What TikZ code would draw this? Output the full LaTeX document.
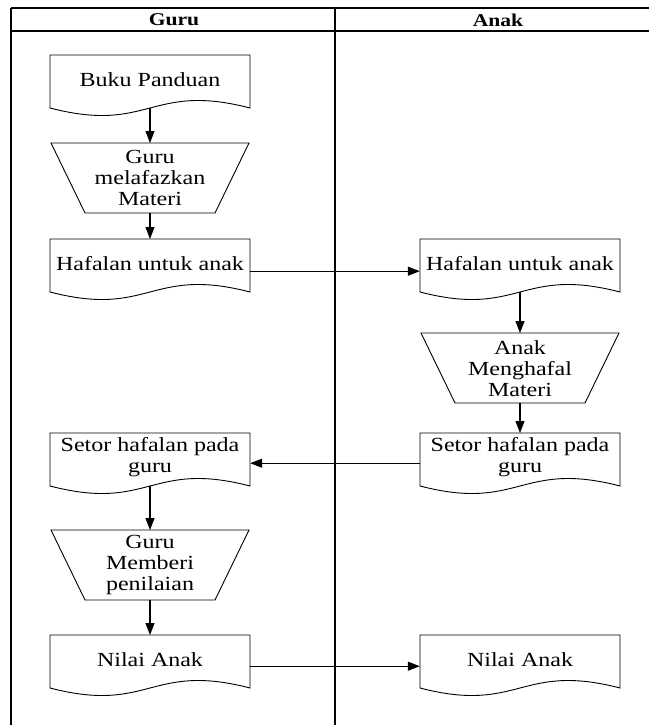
\documentclass[tikz,border=0pt]{standalone}
\usepackage{fontspec}
\setmainfont{Liberation Serif}[FakeStretch=1.2]
\usetikzlibrary{arrows.meta}

\newcommand\bodyfont{\fontsize{20}{21}\selectfont}
\newcommand\headfont{\fontsize{18}{20}\selectfont\bfseries}

\tikzset{
  shapeline/.style={draw=black, line width=0.9pt},
  docbox/.style={rectangle, minimum width=200pt, minimum height=48pt,
    inner sep=0pt, anchor=north, align=center, font=\bodyfont},
  iobox/.style={rectangle, minimum width=198pt, minimum height=70pt,
    inner sep=0pt, anchor=north, align=center, font=\bodyfont},
  flow/.style={line width=1.1pt, -{Triangle[length=12pt,width=9pt]}},
  lanehead/.style={font=\headfont},
  laneframe/.style={line width=1.6pt},
}

% document symbol: name, centre x, top y, text
\newcommand\docshape[4]{%
  \node[docbox] (#1) at (#2,#3) {#4};
  \draw[shapeline] (#2-100,#3) -- (#2+100,#3) -- (#2+100,#3+53)
    .. controls (#2,#3+27) and (#2,#3+79) .. (#2-100,#3+53) -- cycle;
  \coordinate (#1-b) at (#2,#3+53);
}
% manual operation symbol: name, centre x, top y, text
\newcommand\ioshape[4]{%
  \node[iobox] (#1) at (#2,#3) {#4};
  \draw[shapeline] (#2-99,#3) -- (#2+99,#3) -- (#2+65,#3+70)
    -- (#2-65,#3+70) -- cycle;
}

\begin{document}
\begin{tikzpicture}[x=1pt, y=-1pt]
  \fill[white] (0,0) rectangle (649,725);
  \useasboundingbox (0,0) rectangle (649,725);

  % swimlane frame
  \draw[laneframe] (11,8) -- (649,8);
  \draw[laneframe] (11,31) -- (649,31);
  \draw[line width=1.2pt] (11,8) -- (11,725);
  \draw[line width=2pt] (335,8) -- (335,725);
  \node[lanehead] (hguru) at (174,20) {Guru};
  \node[lanehead] (hanak) at (498,20) {Anak};

  % Guru lane
  \docshape{buku}{150}{55}{Buku Panduan}
  \ioshape{lafaz}{150}{143}{Guru\\melafazkan\\Materi}
  \docshape{hafalg}{150}{239}{Hafalan untuk anak}
  \docshape{setorg}{150}{433}{Setor hafalan pada\\guru}
  \ioshape{nilai}{150}{530}{Guru\\Memberi\\penilaian}
  \docshape{nilaig}{150}{635}{Nilai Anak}

  % Anak lane
  \docshape{hafala}{520}{239}{Hafalan untuk anak}
  \ioshape{hafal}{520}{333}{Anak\\Menghafal\\Materi}
  \docshape{setora}{520}{433}{Setor hafalan pada\\guru}
  \docshape{nilaia}{520}{635}{Nilai Anak}

  % flow
  \draw[flow] (buku-b) -- (lafaz.north);
  \draw[flow] (lafaz.south) -- (hafalg.north);
  \draw[flow] ([yshift=-8pt]hafalg.east) -- ([yshift=-8pt]hafala.west);
  \draw[flow] (hafala-b) -- (hafal.north);
  \draw[flow] (hafal.south) -- (setora.north);
  \draw[flow] ([yshift=-6pt]setora.west) -- ([yshift=-6pt]setorg.east);
  \draw[flow] (setorg-b) -- (nilai.north);
  \draw[flow] (nilai.south) -- (nilaig.north);
  \draw[flow] ([yshift=-7pt]nilaig.east) -- ([yshift=-7pt]nilaia.west);
\end{tikzpicture}
\end{document}
